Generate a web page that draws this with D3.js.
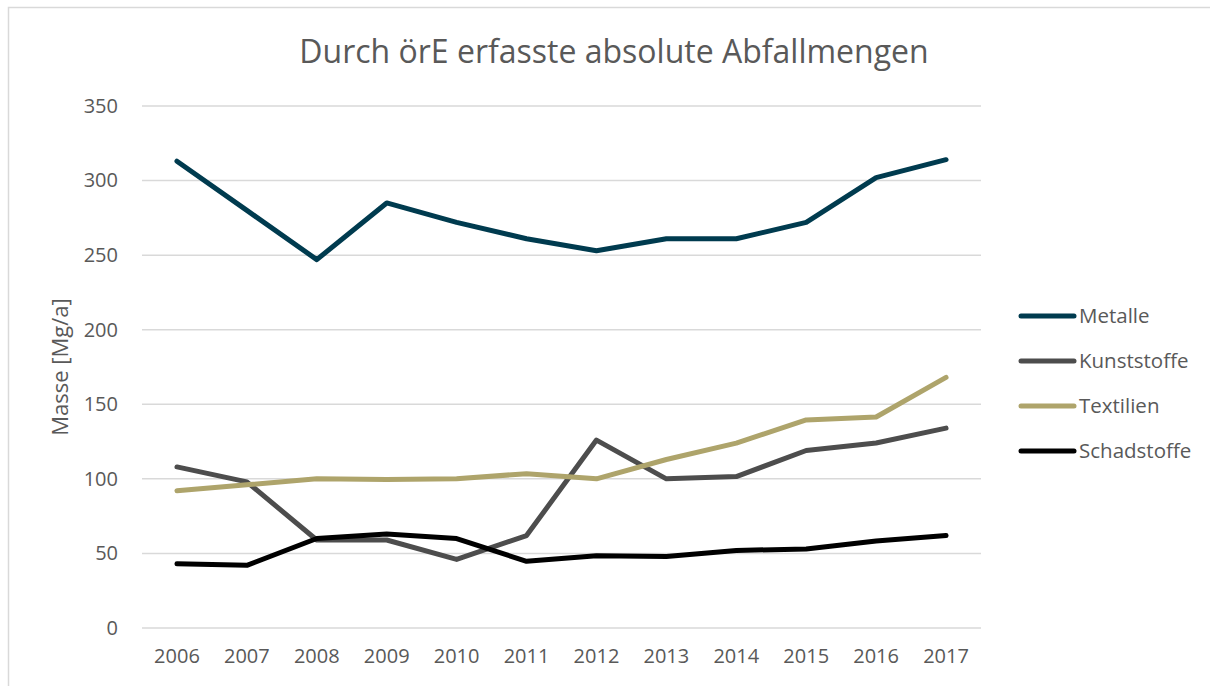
<!DOCTYPE html>
<html lang="de">
<head>
<meta charset="utf-8">
<style type="text/css">
    body { margin: 0; background: #fff; }
    svg text { font-family: "Open Sans", sans-serif; fill: #595959; }
    .title_text { font-size: 32px; }
    .tick_text { font-size: 20px; }
    .legend_text { font-size: 20.5px; }
    .axis_title { font-size: 22px; }
</style>
</head>
<body>
<div id="graph"></div>
<script src="https://cdn.jsdelivr.net/npm/d3@7"></script>
<script type="text/javascript">
    var years = ["2006", "2007", "2008", "2009", "2010", "2011", "2012", "2013", "2014", "2015", "2016", "2017"];
    var yTicks = [0, 50, 100, 150, 200, 250, 300, 350];
    var seriesNames = ["Metalle", "Kunststoffe", "Textilien", "Schadstoffe"];
    var seriesColors = ["#003b4f", "#4d4d4d", "#aea46b", "#000000"];

    var metalle     = [313, 280, 247, 285, 272, 261, 253, 261, 261, 272, 302, 314];
    var kunststoffe = [108, 98, 59, 59, 46, 62, 126, 100, 101.5, 119, 124, 134];
    var textilien   = [92, 96, 100, 99.5, 100, 103.5, 100, 113, 124, 139.5, 141.5, 168];
    var schadstoffe = [43, 42, 60, 63, 60, 44.7, 48.5, 48, 52, 53, 58.3, 62];

    var allValues = [metalle, kunststoffe, textilien, schadstoffe];

    var W = 1210, H = 686;
    var margin = {top: 106, right: 229, bottom: 58, left: 142}
        , width = W - margin.left - margin.right
        , height = H - margin.top - margin.bottom;

    var svg = d3.select("#graph").append("svg")
        .attr("width", W)
        .attr("height", H);

    // chart frame (only left/top edges fall inside the window)
    svg.append("rect")
        .attr("x", 8.5).attr("y", 7.5)
        .attr("width", W + 20).attr("height", H + 20)
        .attr("fill", "none")
        .attr("stroke", "#d9d9d9")
        .attr("stroke-width", 1.5);

    var g = svg.append("g")
        .attr("transform", "translate(" + margin.left + "," + margin.top + ")");

    var x = d3.scaleBand().domain(years).range([0, width]);
    var y = d3.scaleLinear().domain([0, 350]).range([height, 0]);

    // gridlines
    g.selectAll(".grid")
        .data(yTicks)
        .enter()
        .append("line")
        .attr("class", "grid")
        .attr("x1", 0).attr("x2", width)
        .attr("y1", function(d) { return y(d); })
        .attr("y2", function(d) { return y(d); })
        .attr("stroke", "#d9d9d9")
        .attr("stroke-width", 1.5);

    // y axis labels
    var yAxis = g.append("g")
        .call(d3.axisLeft(y).tickValues(yTicks).tickSize(0).tickPadding(24));
    yAxis.select(".domain").remove();
    yAxis.selectAll("text").attr("class", "tick_text").attr("fill", "#595959");

    // x axis labels
    var xAxis = g.append("g")
        .attr("transform", "translate(0," + height + ")")
        .call(d3.axisBottom(x).tickSize(0).tickPadding(21));
    xAxis.select(".domain").remove();
    xAxis.selectAll("text").attr("class", "tick_text").attr("fill", "#595959");

    var line = d3.line()
        .x(function(d, i) { return x(years[i]) + x.bandwidth() / 2; })
        .y(function(d) { return y(d); });

    g.selectAll(".series")
        .data(allValues)
        .enter()
        .append("path")
        .attr("class", "series")
        .attr("d", function(d) { return line(d); })
        .attr("fill", "none")
        .attr("stroke", function(d, i) { return seriesColors[i]; })
        .attr("stroke-width", 5)
        .attr("stroke-linejoin", "round")
        .attr("stroke-linecap", "round");

    // title
    svg.append("text")
        .attr("class", "title_text")
        .attr("x", 614)
        .attr("y", 63)
        .attr("text-anchor", "middle")
        .text("Durch örE erfasste absolute Abfallmengen");

    // y axis title
    svg.append("text")
        .attr("class", "axis_title")
        .attr("transform", "translate(68,367) rotate(-90)")
        .attr("text-anchor", "middle")
        .text("Masse [Mg/a]");

    // legend
    var legend = svg.selectAll(".legend")
        .data(seriesNames)
        .enter()
        .append("g")
        .attr("class", "legend")
        .attr("transform", function(d, i) { return "translate(1021," + (316 + i * 45) + ")"; });

    legend.append("line")
        .attr("x1", 0).attr("x2", 53)
        .attr("y1", 0).attr("y2", 0)
        .attr("stroke", function(d, i) { return seriesColors[i]; })
        .attr("stroke-width", 5)
        .attr("stroke-linecap", "round");

    legend.append("text")
        .attr("class", "legend_text")
        .attr("x", 58)
        .attr("y", 0)
        .attr("dy", "0.35em")
        .text(function(d) { return d; });
</script>
</body>
</html>
